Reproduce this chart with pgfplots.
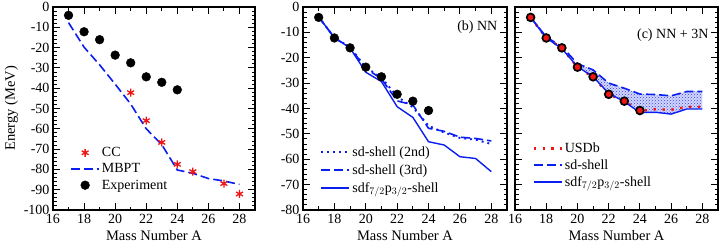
\documentclass[border=0pt]{standalone}
\usepackage{pgfplots}
\pgfplotsset{compat=1.18}
\usepackage{fontspec}
\setmainfont{Liberation Serif}
\usetikzlibrary{patterns}
\definecolor{myblue}{RGB}{10,30,240}
\definecolor{myred}{RGB}{240,20,20}
\pgfplotsset{
  every axis/.append style={
    scale only axis,
    height=203pt,
    xmin=16, xmax=29,
    xtick={16,18,...,28},
    minor x tick num=1,
    minor y tick num=4,
    tick align=inside,
    major tick length=7pt,
    minor tick length=3.5pt,
    tick style={line width=0.9pt,black},
    axis line style={line width=1.1pt},
    /pgf/number format/assume math mode=true,
    font=\fontsize{14}{16}\selectfont,
    tick label style={font=\fontsize{14}{16}\selectfont},
    label style={font=\fontsize{14.5}{16}\selectfont},
    xlabel={Mass Number A},
    xticklabel style={yshift=-1pt},
    legend cell align=left,
    legend style={draw=none, fill=none, font=\fontsize{14}{16}\selectfont, row sep=1.5pt},
    legend image code/.code={\draw[mark repeat=2,mark phase=2,#1] plot coordinates {(0pt,0pt) (14pt,0pt) (28pt,0pt)};},
  },
  exp/.style={only marks, mark=*, mark size=4.4pt, black},
  dashed line/.style={myblue, line width=1.6pt, dash pattern=on 9pt off 4pt},
  dotted line/.style={myblue, line width=1.9pt, dash pattern=on 1.9pt off 4pt},
  solid line/.style={myblue, line width=1.4pt},
}
\begin{document}
\begin{tikzpicture}
\path[use as bounding box] (0,0) rectangle (720pt,-249pt);
% ---------- panel (a)
\begin{axis}[
  at={(53pt,-7pt)}, anchor=north west, width=202pt,
  ymin=-100, ymax=0, ytick={-100,-90,...,0},
  ylabel={Energy (MeV)},
  ylabel style={yshift=-1pt},
  legend style={at={(0.07,0.075)}, anchor=south west},
]
\addplot[only marks, mark=asterisk, mark size=4pt, myred, line width=1.3pt] coordinates {
(21,-42.2) (22,-56.0) (23,-66.7) (24,-77.5) (25,-81.1) (27,-87.0) (28,-92.1)};
\addlegendentry{CC}
\addplot[dashed line] coordinates {
(17,-7.7) (18,-19.8) (19,-28.5) (20,-38.0) (21,-47.8) (22,-60.0) (23,-67.8) (24,-80.3) (25,-81.9) (26,-84.5) (27,-85.7) (28,-87.4)};
\addlegendentry{MBPT}
\addplot[exp] coordinates {
(17,-4.1) (18,-12.2) (19,-16.1) (20,-23.7) (21,-27.5) (22,-34.4) (23,-37.1) (24,-40.8)};
\addlegendentry{Experiment}
\end{axis}
% ---------- panel (b)
\begin{axis}[
  at={(303pt,-7pt)}, anchor=north west, width=204pt,
  ymin=-80, ymax=0, ytick={-80,-70,...,0},
  legend style={at={(0.07,0.06)}, anchor=south west, row sep=2.7pt},
]
\addplot[dotted line] coordinates {
(17,-3.9) (18,-12.1) (19,-15.8) (20,-23.8) (21,-27.8) (22,-35.3) (23,-39.5) (24,-46.8) (25,-49.5) (26,-51.6) (27,-52.3) (28,-54.0)};
\addlegendentry{sd-shell (2nd)}
\addplot[dashed line] coordinates {
(17,-3.9) (18,-12.2) (19,-16.0) (20,-24.2) (21,-28.3) (22,-37.0) (23,-38.6) (24,-47.8) (25,-49.0) (26,-51.3) (27,-51.8) (28,-52.8)};
\addlegendentry{sd-shell (3rd)}
\addplot[solid line] coordinates {
(17,-4.0) (18,-12.0) (19,-16.2) (20,-25.7) (21,-29.4) (22,-39.3) (23,-43.5) (24,-53.1) (25,-54.4) (26,-59.0) (27,-59.7) (28,-64.9)};
\addlegendentry{sdf$_{7/2}$p$_{3/2}$-shell}
\addplot[exp, forget plot] coordinates {
(17,-4.1) (18,-12.2) (19,-16.1) (20,-23.7) (21,-27.5) (22,-34.4) (23,-37.1) (24,-40.8)};
\node[anchor=north east] at (rel axis cs:0.97,0.95) {(b) NN};
\end{axis}
% ---------- panel (c)
\begin{axis}[
  at={(515pt,-7pt)}, anchor=north west, width=203pt,
  ymin=-80, ymax=0, ytick={-80,-70,...,0}, yticklabels={},
  legend style={at={(0.07,0.09)}, anchor=south west, row sep=1.5pt},
]
\addplot[fill=myblue!18, draw=none, forget plot] coordinates {
(20,-22.3) (21,-24.8) (22,-30.0) (23,-32.0) (24,-34.3) (25,-34.5) (26,-35.0) (27,-33.3) (28,-33.3)
(28,-40.2) (27,-40.2) (26,-42.2) (25,-41.5) (24,-41.6) (23,-37.3) (22,-34.0) (21,-27.5) (20,-23.5)} -- cycle;
\addplot[pattern=crosshatch dots, pattern color=myblue!85, draw=none, forget plot] coordinates {
(20,-22.3) (21,-24.8) (22,-30.0) (23,-32.0) (24,-34.3) (25,-34.5) (26,-35.0) (27,-33.3) (28,-33.3)
(28,-40.2) (27,-40.2) (26,-42.2) (25,-41.5) (24,-41.6) (23,-37.3) (22,-34.0) (21,-27.5) (20,-23.5)} -- cycle;
\addplot[myred, line width=2.4pt, dash pattern=on 2.4pt off 6.5pt] coordinates {
(17,-4.1) (18,-12.2) (19,-16.1) (20,-23.8) (21,-27.6) (22,-34.4) (23,-37.1) (24,-41.0) (25,-40.3) (26,-40.5) (27,-39.4) (28,-39.3)};
\addlegendentry{USDb}
\addplot[dashed line] coordinates {
(17,-4.1) (18,-11.8) (19,-15.6) (20,-22.3) (21,-24.8) (22,-30.0) (23,-32.0) (24,-34.3) (25,-34.5) (26,-35.0) (27,-33.3) (28,-33.3)};
\addlegendentry{sd-shell}
\addplot[solid line] coordinates {
(17,-4.1) (18,-12.2) (19,-16.4) (20,-23.5) (21,-27.5) (22,-34.0) (23,-37.3) (24,-41.6) (25,-41.5) (26,-42.2) (27,-40.2) (28,-40.2)};
\addlegendentry{sdf$_{7/2}$p$_{3/2}$-shell}
\addplot[only marks, mark=*, mark size=3.9pt, black, mark options={fill=myred, draw=black, line width=1.7pt}, forget plot] coordinates {
(17,-4.1) (18,-12.2) (19,-16.1) (20,-23.7) (21,-27.5) (22,-34.4) (23,-37.1) (24,-40.8)};
\node[anchor=north east] at (rel axis cs:0.97,0.91) {(c) NN + 3N};
\end{axis}
\end{tikzpicture}
\end{document}
